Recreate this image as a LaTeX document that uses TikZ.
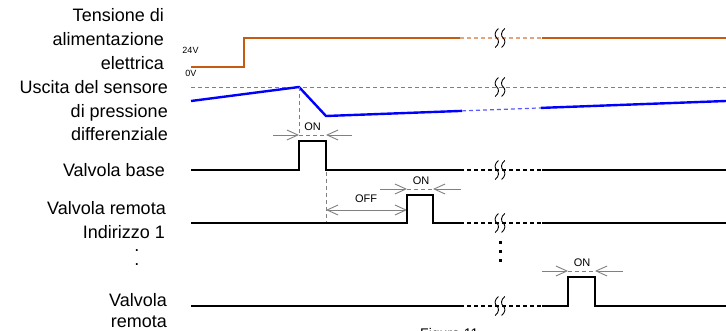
\documentclass[tikz,border=0pt]{standalone}
\usepackage{fontspec}
\setmainfont{Liberation Sans}
\usetikzlibrary{arrows.meta}

\definecolor{pwr}{HTML}{C55A11}
\definecolor{pwrlight}{HTML}{E3A47C}
\definecolor{sens}{HTML}{0000FF}
\definecolor{senslight}{HTML}{5A5AFF}
\definecolor{guide}{HTML}{808080}

\tikzset{
  lbl/.style={font=\fontsize{18}{22}\selectfont, anchor=base east, inner sep=0pt},
  small/.style={font=\fontsize{11}{13}\selectfont, inner sep=0pt},
  tiny/.style={font=\fontsize{9}{11}\selectfont, inner sep=0pt},
  sig/.style={line width=2.4pt, black, line join=miter, line cap=butt},
  gapline/.style={line width=1.2pt, dash pattern=on 4pt off 3pt},
  guideline/.style={guide, line width=0.9pt, dash pattern=on 4pt off 3pt},
  dimarrow/.style={guide, line width=0.9pt, -{Straight Barb[length=11pt,width=10pt]}},
  dimboth/.style={guide, line width=0.9pt, {Straight Barb[length=11pt,width=10pt]}-{Straight Barb[length=11pt,width=10pt]}},
  brk/.pic={
    \foreach \dx in {-3.2,3.2}
      \draw[black, line width=0.9pt]
        (\dx+1.6,-9.5) .. controls (\dx-2.6,-6) and (\dx-2.4,-2) .. (\dx,0)
        .. controls (\dx+2.4,2) and (\dx+2.6,6) .. (\dx-1.6,9.5);
  },
  dot/.style={fill=black, minimum size=3pt, inner sep=0pt},
  ellip/.style={lbl, text height=3pt, text depth=0pt}
}

\begin{document}
\begin{tikzpicture}[x=1pt, y=-1pt]
\useasboundingbox (0,0) rectangle (726,331);

% row labels
\node[lbl] (t1) at (164,22) {Tensione di};
\node[lbl] (t2) at (164,46) {alimentazione};
\node[lbl] (t3) at (164,70) {elettrica};
\node[lbl] (s1) at (168,94) {Uscita del sensore};
\node[lbl] (s2) at (168,118) {di pressione};
\node[lbl] (s3) at (168,141) {differenziale};
\node[lbl] (vb) at (165,177) {Valvola base};
\node[lbl] (r1) at (166,215) {Valvola remota};
\node[lbl] (r2) at (165,239) {Indirizzo 1};
\node[ellip] (c1) at (139.5,252) {.};
\node[ellip] (c2) at (139.5,266) {.};
\node[lbl] (n1) at (167,307) {Valvola};
\node[lbl] (n2) at (167,327) {remota};
\node[font=\fontsize{14}{16}\selectfont, anchor=base west, inner sep=0pt] (fig) at (420,338) {Figura 11};

% supply voltage
\node[tiny] (v24) at (190.5,50.5) {24V};
\node[tiny] (v0) at (190.8,73) {0V};
\draw[sig, pwr] (191,67) -- (244,67) -- (244,38) -- (460,38);
\draw[gapline, pwrlight] (460,38) -- (542,38);
\draw[sig, pwr] (542,38) -- (726,38);

% differential pressure sensor output
\draw[guideline] (191,87) -- (726,87);
\coordinate (peak) at (299,87);
\coordinate (low) at (326,116);
\draw[sig, sens] (191,101) -- (peak) -- (low) -- (462,110.9);
\draw[gapline, senslight] (462,110.9) -- (541,107.9);
\draw[sig, sens] (541,107.9) -- (726,101);

% base valve
\draw[sig] (191,170) -- (299,170) -- (299,141) -- (326,141) -- (326,170) -- (460,170);
\draw[gapline] (460,170) -- (542,170);
\draw[sig] (542,170) -- (726,170);
\draw[guideline] (peak) -- (299,135);
\draw[dimarrow] (273,135) -- (299,135);
\draw[dimarrow] (352,135) -- (326,135);
\draw[guideline] (299,135) -- (326,135);
\node[small] (on1) at (312.5,127) {ON};

% remote valve, address 1
\draw[guideline] (326,172) -- (326,223);
\draw[dimboth] (326,210) -- (407,210);
\node[small] (off) at (366,199) {OFF};
\draw[sig] (191,223) -- (407,223) -- (407,195) -- (433,195) -- (433,223) -- (460,223);
\draw[gapline] (460,223) -- (542,223);
\draw[sig] (542,223) -- (726,223);
\draw[dimarrow] (380,189) -- (407,189);
\draw[dimarrow] (461,189) -- (433,189);
\draw[guideline] (407,189) -- (433,189);
\node[small] (on2) at (421,181) {ON};

% further addresses
\node[dot] (d1) at (500.7,243) {};
\node[dot] (d2) at (500.7,252) {};
\node[dot] (d3) at (500.7,261) {};

% last remote valve
\draw[sig] (191,306) -- (460,306);
\draw[gapline] (460,306) -- (542,306);
\draw[sig] (542,306) -- (568,306) -- (568,277) -- (595,277) -- (595,306) -- (726,306);
\draw[dimarrow] (542,271) -- (568,271);
\draw[dimarrow] (623,271) -- (595,271);
\draw[guideline] (568,271) -- (595,271);
\node[small] (on3) at (582,263) {ON};

% time-axis breaks
\foreach \y in {38,87,170,223,306}
  \pic at (500,\y) {brk};
\end{tikzpicture}
\end{document}
